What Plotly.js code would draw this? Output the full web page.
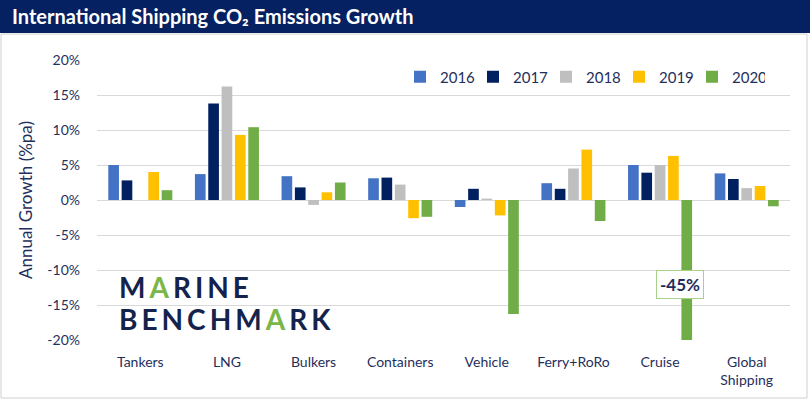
<!DOCTYPE html>
<html><head><meta charset="utf-8">
<script src="https://cdn.plot.ly/plotly-3.0.1.min.js"></script>
<style>html,body{margin:0;padding:0;background:#fff;}#chart{width:810px;height:399px;}</style>
</head><body><div id="chart"></div>
<script>
const categories = ['Tankers','LNG','Bulkers','Containers','Vehicle','Ferry+RoRo','Cruise','Global<br>Shipping'];
const years = ['2016','2017','2018','2019','2020'];
const v2016 = [5.0, 3.7, 3.4, 3.1, -1.0, 2.4, 5.0, 3.8];
const v2017 = [2.8, 13.8, 1.8, 3.2, 1.6, 1.6, 3.9, 3.0];
const v2018 = [0.0, 16.2, -0.7, 2.2, 0.2, 4.5, 5.0, 1.7];
const v2019 = [4.0, 9.3, 1.1, -2.6, -2.2, 7.2, 6.3, 2.0];
const v2020 = [1.4, 10.4, 2.5, -2.4, -16.3, -3.0, -45.0, -0.9];
const yTicks = [-20,-15,-10,-5,0,5,10,15,20];
const yTickText = yTicks.map(v => v + '%');
const colors = ['#4472C4','#002060','#BFBFBF','#FFC000','#70AD47'];
const series = [v2016, v2017, v2018, v2019, v2020];

const navy = '#1F2F5C';
const traces = series.map((vals, i) => ({
  type: 'bar', name: years[i], x: categories, y: vals,
  marker: {color: colors[i]}, hoverinfo: 'skip'
}));

const L = 97, R = 20, T = 60, B = 59, W = 810, H = 399;
const pw = W - L - R, ph = H - T - B;
const px = x => (x - L) / pw;
const py = y => (H - B - y) / ph;

const layout = {
  width: W, height: H,
  margin: {l: L, r: R, t: T, b: B, autoexpand: false},
  paper_bgcolor: '#fff', plot_bgcolor: '#fff',
  barmode: 'group', bargap: 0.23, bargroupgap: 0.2,
  font: {family: 'Lato, "Open Sans", sans-serif', color: navy},
  title: {
    text: '<b>International Shipping CO₂ Emissions Growth</b>',
    xref: 'container', yref: 'container', x: 12/W, xanchor: 'left',
    y: 1 - 17/H, yanchor: 'middle',
    font: {family: 'Lato, "Open Sans", sans-serif', size: 20, color: '#ffffff'}
  },
  showlegend: true,
  legend: {
    orientation: 'h', x: px(400), xanchor: 'left', y: py(77), yanchor: 'middle',
    font: {size: 15, color: navy}, entrywidth: 28, entrywidthmode: 'pixels',
    bgcolor: 'rgba(0,0,0,0)', traceorder: 'normal'
  },
  xaxis: {
    type: 'category', showgrid: false, zeroline: false, showline: false,
    ticks: '', tickfont: {size: 14, color: navy}, ticklabelstandoff: 12,
    fixedrange: true
  },
  yaxis: {
    range: [-20, 20], tickvals: yTicks, ticktext: yTickText,
    showgrid: true, gridcolor: '#D9D9D9', gridwidth: 1,
    zeroline: true, zerolinecolor: '#D9D9D9', zerolinewidth: 1,
    showline: false, ticks: '', tickfont: {size: 14, color: navy},
    ticklabelstandoff: 16,
    title: {text: 'Annual Growth (%pa)', font: {size: 17, color: navy}, standoff: 10},
    fixedrange: true
  },
  shapes: [
    {type: 'rect', xref: 'paper', yref: 'paper', x0: px(0), x1: px(W), y0: py(33), y1: py(0),
     fillcolor: '#062161', line: {width: 0}, layer: 'below'},
    {type: 'rect', xref: 'paper', yref: 'paper', x0: px(1), x1: px(807), y0: py(398), y1: py(34),
     fillcolor: 'rgba(0,0,0,0)', line: {width: 1, color: '#D0D0D0'}, layer: 'below'}
  ],
  annotations: [
    {xref: 'x', yref: 'y', x: 'Cruise', y: -12.1, xshift: 20, showarrow: false,
     text: '<b>-45%</b>', font: {size: 17, color: navy},
     bgcolor: '#ffffff', bordercolor: '#A9D18E', borderwidth: 1, borderpad: 3},
    {xref: 'paper', yref: 'paper', x: px(117), y: py(287), xanchor: 'left', yanchor: 'middle',
     showarrow: false, font: {family: 'Lato, "Noto Sans", sans-serif', size: 28, color: '#14234B'},
     text: '<span style="letter-spacing:4px"><b>M<span style="color:#7AB648">A</span>RINE</b></span>'},
    {xref: 'paper', yref: 'paper', x: px(117), y: py(319), xanchor: 'left', yanchor: 'middle',
     showarrow: false, font: {family: 'Lato, "Noto Sans", sans-serif', size: 28, color: '#14234B'},
     text: '<span style="letter-spacing:4px"><b>BENCHM<span style="color:#7AB648">A</span>RK</b></span>'}
  ]
};

Plotly.newPlot('chart', traces, layout, {displayModeBar: false, staticPlot: true});
</script>
</body></html>
